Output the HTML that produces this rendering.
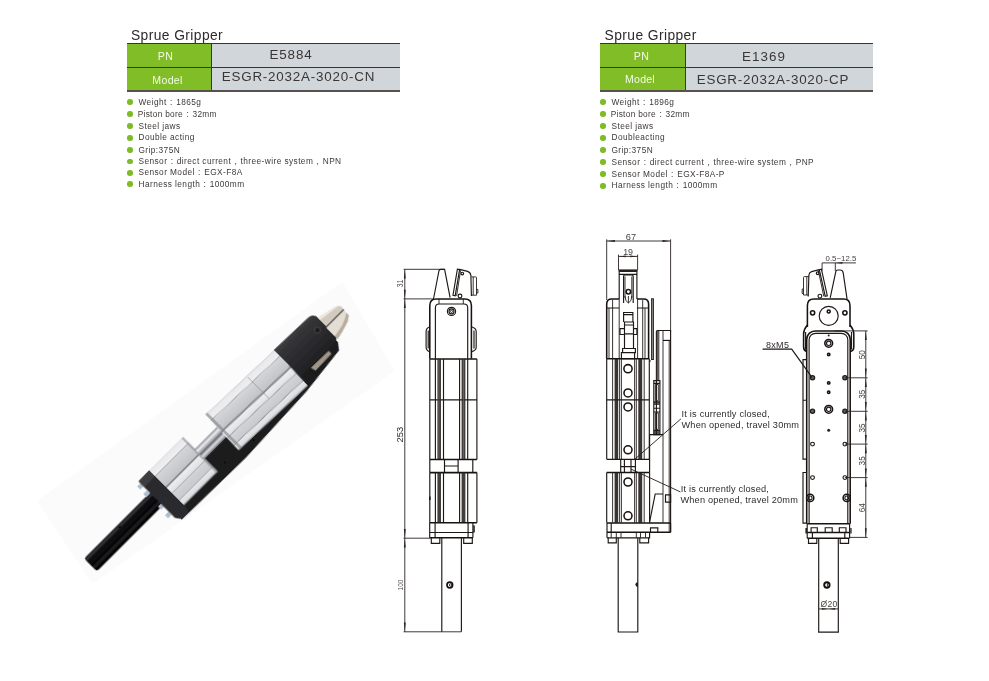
<!DOCTYPE html>
<html>
<head>
<meta charset="utf-8">
<title>Sprue Gripper</title>
<style>
html,body{margin:0;padding:0;background:#fff;}
body{width:989px;height:681px;position:relative;overflow:hidden;font-family:"Liberation Sans",sans-serif;color:#3a3635;}
.title{position:absolute;font-size:13.8px;line-height:14px;letter-spacing:0.42px;color:#2e2a29;white-space:nowrap;}
.tbl{position:absolute;width:273px;height:48px;}
.tbl .line{position:absolute;left:0;width:273px;height:1.4px;background:#3a3432;}
.tbl .g{position:absolute;left:0;width:85px;background:#80bd26;color:#f4fbe8;font-size:10.6px;text-align:center;letter-spacing:0.5px;}
.tbl .v{position:absolute;left:85px;width:188px;background:#d1d6db;color:#3a3635;font-size:13.4px;text-align:center;white-space:nowrap;}
.tbl .vd{position:absolute;left:84px;width:1.15px;top:0;height:48px;background:#3a3432;}
ul.spec{position:absolute;margin:0;padding:0;list-style:none;font-size:8.3px;line-height:11.8px;color:#3d3938;letter-spacing:0.42px;white-space:nowrap;}
ul.spec li{position:absolute;left:0;height:11.8px;line-height:11.8px;padding-left:11.5px;}
ul.spec li:before{content:"";position:absolute;left:0;top:2.6px;width:5.6px;height:5.6px;border-radius:50%;background:#7dbb27;}
.w{display:inline-block;width:9.5px;text-align:center;}
svg{position:absolute;left:0;top:0;}
#wrap{position:absolute;left:0;top:0;width:989px;height:681px;opacity:0.999;will-change:opacity;}
</style>
</head>
<body>
<div id="wrap">

<!-- LEFT HEADER -->
<div class="title" style="left:131px;top:28.7px;">Sprue Gripper</div>
<div class="tbl" style="left:127px;top:43px;">
  <div class="g" style="top:0.5px;height:24.5px;line-height:24.5px;text-indent:-8px;">PN</div>
  <div class="g" style="top:24px;height:24px;line-height:26px;letter-spacing:0.3px;text-indent:-4px;">Model</div>
  <div class="v" style="top:0.5px;height:24.5px;line-height:22.8px;letter-spacing:0.85px;text-indent:-30px;">E5884</div>
  <div class="v" style="top:24px;height:24px;line-height:19.2px;letter-spacing:0.8px;text-indent:-15px;">ESGR-2032A-3020-CN</div>
  <div class="vd"></div>
  <div class="line" style="top:0;"></div>
  <div class="line" style="top:23.6px;"></div>
  <div class="line" style="top:47.3px;background:#57514f;"></div>
</div>
<ul class="spec" style="left:127px;top:96.9px;line-height:11.72px;">
  <li style="top:0.0px">Weight<span class="w">:</span>1865g</li>
  <li style="top:11.8px;padding-left:10.7px;letter-spacing:0.3px">Piston bore<span class="w">:</span>32mm</li>
  <li style="top:23.7px">Steel jaws</li>
  <li style="top:35.5px">Double acting</li>
  <li style="top:47.7px">Grip:375N</li>
  <li style="top:59.2px">Sensor<span class="w">:</span>direct current<span class="w">,</span>three-wire system<span class="w">,</span>NPN</li>
  <li style="top:70.6px">Sensor Model<span class="w">:</span>EGX-F8A</li>
  <li style="top:82.0px">Harness length<span class="w">:</span>1000mm</li>
</ul>

<!-- RIGHT HEADER -->
<div class="title" style="left:604.6px;top:28.7px;">Sprue Gripper</div>
<div class="tbl" style="left:600px;top:43px;">
  <div class="g" style="width:86px;top:0.5px;height:24.5px;line-height:25.5px;text-indent:-3px;">PN</div>
  <div class="g" style="width:86px;top:24px;height:24px;line-height:25px;letter-spacing:0.2px;text-indent:-6px;">Model</div>
  <div class="v" style="top:0.5px;height:24.5px;line-height:25.6px;letter-spacing:1.1px;text-indent:-30px;">E1369</div>
  <div class="v" style="top:24px;height:24px;line-height:26px;letter-spacing:0.78px;text-indent:-12px;">ESGR-2032A-3020-CP</div>
  <div class="vd" style="left:85px"></div>
  <div class="line" style="top:0;"></div>
  <div class="line" style="top:23.6px;"></div>
  <div class="line" style="top:47.3px;background:#57514f;"></div>
</div>
<ul class="spec" style="left:600px;top:96.9px;line-height:11.94px;">
  <li style="top:0.0px">Weight<span class="w">:</span>1896g</li>
  <li style="top:11.8px;padding-left:10.7px;letter-spacing:0.3px">Piston bore<span class="w">:</span>32mm</li>
  <li style="top:23.7px">Steel jaws</li>
  <li style="top:35.5px">Doubleacting</li>
  <li style="top:47.7px">Grip:375N</li>
  <li style="top:60.0px">Sensor<span class="w">:</span>direct current<span class="w">,</span>three-wire system<span class="w">,</span>PNP</li>
  <li style="top:71.8px">Sensor Model<span class="w">:</span>EGX-F8A-P</li>
  <li style="top:83.6px">Harness length<span class="w">:</span>1000mm</li>
</ul>

<svg id="art" width="989" height="681" viewBox="0 0 989 681">
<!--PHOTO-->
<defs>
<linearGradient id="gCyl" gradientUnits="userSpaceOnUse" x1="0" y1="438" x2="0" y2="492">
<stop offset="0.0000" stop-color="#b3b5b8"/><stop offset="0.0296" stop-color="#e9e9eb"/><stop offset="0.1444" stop-color="#eeeef0"/><stop offset="0.1556" stop-color="#a6a8ab"/><stop offset="0.1704" stop-color="#d4d5d7"/><stop offset="0.4167" stop-color="#c3c4c7"/><stop offset="0.4296" stop-color="#8c8e91"/><stop offset="0.4556" stop-color="#8f9194"/><stop offset="0.4704" stop-color="#ecedef"/><stop offset="0.5833" stop-color="#e0e1e3"/><stop offset="0.5963" stop-color="#989a9d"/><stop offset="0.6111" stop-color="#d2d3d6"/><stop offset="0.7685" stop-color="#c9cace"/><stop offset="0.7815" stop-color="#8c8e91"/><stop offset="0.7963" stop-color="#e6e7e9"/><stop offset="0.8796" stop-color="#dcdde0"/><stop offset="0.9000" stop-color="#a9abae"/><stop offset="0.9352" stop-color="#8f9194"/><stop offset="1.0000" stop-color="#7d7f82"/>
</linearGradient>
<linearGradient id="gRod" gradientUnits="userSpaceOnUse" x1="0" y1="454.5" x2="0" y2="472.5">
<stop offset="0" stop-color="#0c0c0d"/><stop offset="0.13" stop-color="#37373a"/><stop offset="0.26" stop-color="#0b0b0c"/><stop offset="0.6" stop-color="#050506"/><stop offset="0.74" stop-color="#232326"/><stop offset="0.86" stop-color="#060607"/><stop offset="1" stop-color="#000"/>
</linearGradient>
<linearGradient id="gHead" gradientUnits="userSpaceOnUse" x1="0" y1="440" x2="0" y2="480">
<stop offset="0" stop-color="#424246"/><stop offset="0.18" stop-color="#343437"/><stop offset="0.55" stop-color="#2b2b2e"/><stop offset="1" stop-color="#202022"/>
</linearGradient>
<linearGradient id="gPist" gradientUnits="userSpaceOnUse" x1="0" y1="455.4" x2="0" y2="469.2">
<stop offset="0" stop-color="#7d8086"/><stop offset="0.2" stop-color="#eef0f2"/><stop offset="0.45" stop-color="#9da1a7"/>
<stop offset="0.55" stop-color="#62656b"/><stop offset="0.75" stop-color="#dfe2e5"/><stop offset="1" stop-color="#6f7277"/>
</linearGradient>
<linearGradient id="gJaw" gradientUnits="userSpaceOnUse" x1="0" y1="449" x2="0" y2="482">
<stop offset="0" stop-color="#e9e2d9"/><stop offset="0.35" stop-color="#d6ccc0"/><stop offset="0.42" stop-color="#4a4440"/>
<stop offset="0.48" stop-color="#c9beb1"/><stop offset="1" stop-color="#a79c90"/>
</linearGradient>
<filter id="soft" x="-5%" y="-5%" width="110%" height="110%"><feGaussianBlur stdDeviation="0.75"/></filter>
</defs>
<polygon points="37,500.7 342.4,281.7 394.8,371 92.5,584" fill="#fbfbfb"/>
<g transform="rotate(-45)" filter="url(#soft)">
<!-- back plate -->
<polygon points="-239,496 -150,497.5 -60,493.5 -8,487.5 -3,481 -3,462 -239,462" fill="#1b1b1d"/>
<!-- rod -->
<path d="M-333,454.6 H-240 V472.4 H-333 Q-335.5,472.4 -335.5,470 V457 Q-335.5,454.6 -333,454.6z" fill="url(#gRod)"/>
<circle cx="-288" cy="457.8" r="1.5" fill="#000" stroke="#303033" stroke-width="0.6"/>
<!-- bolts -->
<rect x="-247" y="441" width="5" height="4.4" fill="#aebccc"/>
<rect x="-248" y="450.6" width="5" height="4.4" fill="#aebccc"/>
<rect x="-246.4" y="470" width="5" height="4.4" fill="#aebccc"/>
<rect x="-247.6" y="481" width="5" height="4.4" fill="#aebccc"/>
<!-- black cap -->
<polygon points="-242.5,438.5 -227,438 -227,488 -229,496 -238,496 -242.5,490" fill="#2c2c2f"/>
<polygon points="-242,438.5 -227,438 -227,446 -242,446.5" fill="#3c3c40"/>
<circle cx="-132" cy="490.5" r="1" fill="#050505"/><circle cx="-168" cy="486" r="1" fill="#050505"/>
<!-- lower block -->
<rect x="-227" y="438.6" width="47.4" height="48.8" fill="url(#gCyl)"/>
<rect x="-181.6" y="438.6" width="2" height="48.8" fill="#8d9095" fill-opacity="0.7"/>
<!-- piston rods -->
<rect x="-180" y="455.4" width="33" height="13.8" fill="url(#gPist)"/>
<!-- upper cylinder -->
<rect x="-148" y="438.4" width="94.6" height="49" fill="url(#gCyl)" transform="rotate(1.9 -148 438.4)"/>
<rect x="-148" y="438.4" width="3" height="49" fill="#7f8287" fill-opacity="0.6"/>
<rect x="-92" y="442" width="0.8" height="30" fill="#85888c" fill-opacity="0.65"/>
<!-- head -->
<path d="M-54,441 L-7,442.6 Q0.2,442.8 0.2,450 V472 Q0.2,479 -6,479 H-54z" fill="url(#gHead)"/>
<circle cx="-9" cy="458" r="3" fill="#1d1d1f" stroke="#4d4d51" stroke-width="0.8"/>
<!-- lower jaw piece -->
<polygon points="-40,480 -15.6,480.6 -15.8,484.6 -39,485" fill="#a0968a"/>
<!-- jaws -->
<polygon points="0,449.4 21.4,454.2 24.6,457.4 24.2,461.4 0,461.4" fill="#d3cabf"/>
<polygon points="0,449.4 21.4,454.2 23,455.8 0,452.4" fill="#eee8e1"/>
<polygon points="0,462.4 24,462.6 23.6,469.7 18.5,473.2 8,476.6 -1,478.6 -1,462.4" fill="#e4ddd4"/>
<polygon points="23.6,466 23.6,469.7 18.5,473.2 8,476.6 -1,478.6 -1,474.5 12,472 20,468.5" fill="#b8ad9f"/>
<rect x="0" y="461.2" width="24.3" height="1.3" fill="#3d3733"/>
</g>

<!--DRAW1-->
<defs>
<style>
.t{stroke:#221d1b;stroke-width:0.9;fill:none;}
.m{stroke:#1d1816;stroke-width:1.15;fill:none;}
.k{stroke:#181311;stroke-width:1.55;fill:none;}
.d{stroke:#2a2422;stroke-width:0.9;fill:none;}
.a{fill:#2a2422;stroke:none;}
.dt{font-family:"Liberation Sans",sans-serif;fill:#2f2b2a;}
</style>
</defs>
<g id="draw1">
<!-- dimension lines -->
<path class="d" d="M403.6,269.3H444.4 M403.6,298.9H434 M404.8,269.3V631.8 M403.6,538.2H430 M403.6,631.8H461.4"/>
<path class="a" d="M404.8,269.5l-0.95,9h1.9z M404.8,298.7l-0.95,-9h1.9z M404.8,299.1l-0.95,9h1.9z M404.8,538l-0.95,-9h1.9z M404.8,538.4l-0.95,9h1.9z M404.8,631.6l-0.95,-9h1.9z"/>
<text class="dt" font-size="8.2" transform="translate(403,287.2) rotate(-90) scale(0.82,1)" fill-opacity="0.85">31</text>
<text class="dt" font-size="9.4" transform="translate(403.4,442.4) rotate(-90)">253</text>
<text class="dt" font-size="7.6" transform="translate(403,590.4) rotate(-90) scale(0.86,1)" fill-opacity="0.85">100</text>
<!-- jaws -->
<path class="m" d="M433.5,299 L438.9,271 Q439.3,269.4 440.8,269.4 L444.6,269.4 L450.1,297.6"/>
<path class="m" d="M457.4,269.1 L453,295.2 L455.2,295.7 L459.6,269.5 Z"/>
<path class="t" d="M460.6,270.2 L456.6,295.9"/>
<path class="m" d="M459.6,269.4 L467.6,271.4 Q470.4,272.3 470.9,275.4 L471.4,296 "/>
<path class="t" d="M471.4,276.9H475.6Q476.5,276.9 476.5,277.8V295.2H471.4 M473.2,277V295 M476.5,289.4H477.9V293H476.5"/>
<circle class="m" cx="462.3" cy="273.5" r="1.3"/>
<circle class="m" cx="460" cy="296" r="1.9"/>
<!-- head -->
<path class="k" d="M429.8,358.7 V305.5 Q429.8,298.9 436.4,298.9 H464.8 Q471.4,298.9 471.4,305.5 V358.7"/>
<path class="m" d="M435.4,358.7 V307.8 Q435.4,304 439.2,304 H463.9 Q467.7,304 467.7,307.8 V358.7"/>
<path class="t" d="M439,298.9V304 M463.3,298.9V304"/>
<circle class="m" cx="451.5" cy="311.4" r="4.1"/>
<circle class="m" cx="451.5" cy="311.4" r="2.5"/>
<circle class="t" cx="451.5" cy="311.4" r="1.1"/>
<path class="m" d="M429.8,326.8 Q426.1,328.2 426.1,331.5 V347.2 Q426.1,350.4 429.8,351.8 M428.2,330.5V348.5"/>
<path class="m" d="M471.4,326.8 Q476.2,328.2 476.2,331.5 V347.2 Q476.2,350.4 471.4,351.8 M474,330.5V348.5"/>
<!-- upper profile -->
<path class="k" d="M429.8,359H476.9"/>
<path class="m" d="M429.8,359V459.4 M476.9,359V459.4 M435.4,359V459.4 M443.5,359V459.4 M459.6,359V459.4 M467.7,359V459.4 M429.8,399.9H476.9"/>
<path d="M437.4,359H441V459.4H437.4z M461.6,359H465.4V459.4H461.6z" fill="#2a2422" fill-opacity="0.88"/>
<path d="M438.9,359.5V459" stroke="#fff" stroke-opacity="0.35" stroke-width="0.5"/>
<path d="M463.5,359.5V459" stroke="#fff" stroke-opacity="0.35" stroke-width="0.5"/>
<!-- gap -->
<path class="k" d="M429.8,459.4H476.9 M429.8,472.6H476.9"/>
<path class="m" d="M429.8,459.4V472.6 M472.8,459.4V472.6 M444.5,459.4V472.6 M458.1,459.4V472.6 M444.5,466H458.1"/>
<!-- lower profile -->
<path class="m" d="M429.8,472.6V522.8 M476.9,472.6V522.8 M435.4,472.6V522.8 M443.5,472.6V522.8 M459.6,472.6V522.8 M467.7,472.6V522.8"/>
<path d="M437.4,472.6H441V522.8H437.4z M461.6,472.6H465.4V522.8H461.6z" fill="#2a2422" fill-opacity="0.88"/>
<path class="k" d="M429.8,496.5V500"/>
<!-- end cap -->
<path class="k" d="M429.7,522.8H476.9 M429.7,537.7H472.9"/>
<path class="m" d="M429.7,522.8V537.7 M472.9,522.8V537.7 M435.1,522.8V537.7 M468.1,522.8V537.7 M429.7,532.5H472.9 M472.9,526H474.2V532H472.9"/>
<path class="m" d="M431.3,537.7V543.4H439.8V537.7 M463.7,537.7V543.4H472.3V537.7"/>
<!-- rod -->
<path class="m" d="M441.8,537.7V631.8 M461.4,537.7V631.8"/>
<circle cx="449.8" cy="585" r="2.8" fill="none" stroke="#15110f" stroke-width="1.7"/>
<circle class="t" cx="450.6" cy="585" r="1.2"/>
</g>

<!--DRAW2-->
<g id="draw2">
<!-- dims -->
<path class="d" d="M606.7,241H670.6 M606.7,239.3V300 M670.6,239.3V331 M618.5,256.4H637.6 M618.5,254.6V270 M637.6,254.6V270"/>
<path class="a" d="M606.9,241l8,-1v2z M670.4,241l-8,-1v2z M618.7,256.4l7,-0.9v1.8z M637.4,256.4l-7,-0.9v1.8z"/>
<text class="dt" font-size="9.2" x="625.8" y="239.7" fill-opacity="0.9">67</text>
<text class="dt" font-size="8.9" x="623.2" y="254.5" fill-opacity="0.9">19</text>
<!-- jaw -->
<path d="M618.5,269.4H637.6V272H618.5z" fill="#241f1d"/>
<path class="m" d="M619.2,272V299 M636.9,272V299 M619.2,274.4H636.9"/>
<path class="m" d="M623.6,303 V276.2 Q623.6,274.8 625,274.8 H631.8 Q633.2,274.8 633.2,276.2 V303"/>
<path class="t" d="M625,276.5V298 M631.8,276.5V298"/>
<circle class="k" cx="628.4" cy="291.7" r="2.2"/>
<path class="t" d="M625,296 Q625,301.5 628.4,303 Q631.8,301.5 631.8,296 M628.4,296V303"/>
<!-- head -->
<path class="k" d="M606.7,358.7 V304 Q606.7,299 611.7,299 H619.2 M636.9,299 H643.6 Q648.6,299 648.6,304 V358.7"/>
<path class="m" d="M606.7,308H619.2 M636.9,308H648.6"/>
<path class="t" d="M609,308V358.7 M612.6,300V358.7 M619.2,299V358.7 M637.6,299V358.7 M642.7,300V358.7 M645,308V358.7"/>
<path class="m" d="M651.7,298.7H653.3V359.5H651.7z"/>
<!-- inner mechanism -->
<path class="m" d="M623.6,322V312.5H632.9V322 M623.6,314.6H632.9 M624.5,322H633.5V348.5H624.5z M624.5,325H633.5 M624.5,333.8H633.5 M620,328.6H624.5V334.5H620z M633.5,328.6H636.9V334.5H633.5z M622.6,348.5H635.4V352.6H622.6z M621.4,352.6H634.6V358.7H621.4z"/>
<!-- upper profile -->
<path class="k" d="M606.7,358.7H649.3"/>
<path class="m" d="M606.7,358.7V459.3 M649.3,358.7V459.3 M606.7,399.8H649.3 M606.7,459.3H649.3"/>
<path class="t" d="M612.6,358.7V459.3 M621.4,358.7V459.3 M634.6,358.7V459.3 M644.2,358.7V459.3"/>
<path d="M614.6,358.7H618.2V459.3H614.6z M638.3,358.7H642.2V459.3H638.3z" fill="#241f1d" fill-opacity="0.9"/>
<path d="M619.6,358.7V459.3 M636.3,358.7V459.3" class="t"/>
<circle class="k" cx="628" cy="368.7" r="4.1"/>
<circle class="k" cx="628" cy="392.9" r="4"/>
<circle class="k" cx="628" cy="406.9" r="4"/>
<circle class="k" cx="628" cy="449.8" r="4"/>
<path class="t" d="M649.3,361H651"/>
<!-- gap -->
<path class="m" d="M620.7,459.3V472.4 M635.4,459.3V472.4 M624.4,459.3V472.4 M631,459.3V472.4 M620.7,466.6H635.4"/>
<!-- lower profile -->
<path class="k" d="M606.7,472.4H649.6"/>
<path class="m" d="M606.7,472.4V522.7 M649.6,472.4V522.7"/>
<path class="t" d="M612.6,472.4V522.7 M621.4,472.4V522.7 M634.6,472.4V522.7 M644.2,472.4V522.7 M619.6,472.4V522.7 M636.3,472.4V522.7"/>
<path d="M614.6,472.4H618.2V522.7H614.6z M638.3,472.4H642.2V522.7H638.3z" fill="#241f1d" fill-opacity="0.9"/>
<circle class="k" cx="628" cy="482" r="4"/>
<circle class="k" cx="628" cy="515.8" r="4"/>
<!-- side plate -->
<path class="m" d="M656.4,434.6 V331.5 Q656.4,330.5 657.4,330.5 H670.6 V532.2"/>
<path d="M656.4,331H659.4V380H656.4z" fill="#3a3432" fill-opacity="0.8"/>
<path class="t" d="M663,330.5V522.7"/>
<path class="t" d="M669.2,340.4V532.2"/><path class="m" d="M663,340.4H670.6"/>
<!-- sensor -->
<path class="m" d="M653.8,380.6H659.9V434.6H653.8z"/>
<path class="m" d="M653.8,383.4H659.9 M653.8,401.8H659.9 M653.8,408.2H659.9 M653.8,412H659.9 M653.8,430.3H659.9"/>
<path class="t" d="M655.4,384.5V400.8H658.3V384.5z M655.4,413V429.4H658.3V413z"/>
<path d="M654,402H659.8V405H654z M654,430.5H659.8V434.4H654z" fill="#241f1d" fill-opacity="0.75"/>
<!-- step block + gusset -->
<path class="m" d="M649.6,434.6H663 M649.6,434.6V472.4 M649.6,522 L655.2,494 H663"/>
<path class="m" d="M665.5,494.8H670.6V502.1H665.5z"/>
<!-- bottom plate -->
<path class="k" d="M607,522.9H670.6 M607,532.2H670.6"/>
<path class="m" d="M607,522.9V537.8 M611.2,522.9V532.2 M670.6,522.9V532.2 M650.5,532.2V527.8H657.8V532.2 M607,537.8H649.6V532.2"/>
<path class="t" d="M611.2,532.2V537.8 M616.3,532.2V537.8 M621,532.2V537.8 M636.3,532.2V537.8 M640.5,532.2V537.8 M645.5,532.2V537.8"/>
<path class="m" d="M608.2,537.8V542.8H616.3V537.8 M639.8,537.8V542.8H648.6V537.8"/>
<!-- rod -->
<path class="m" d="M618.2,537.8V632H637.8V537.8"/>
<path d="M637.8,582.2 A2.4,2.4 0 0 0 637.8,587z" fill="#1f1a18"/>
<!-- leaders + notes -->
<path class="t" d="M680.9,418.9L633.9,460 M631,469.1L680.4,491.9"/>
<text class="dt" font-size="9.2" letter-spacing="0.2" x="681.6" y="417.3">It is currently closed,</text>
<text class="dt" font-size="9.2" letter-spacing="0.2" x="681.5" y="428.2">When opened, travel 30mm</text>
<text class="dt" font-size="9.2" letter-spacing="0.2" x="680.7" y="491.9">It is currently closed,</text>
<text class="dt" font-size="9.2" letter-spacing="0.2" x="680.4" y="502.7">When opened, travel 20mm</text>
</g>

<!--DRAW3-->
<g id="draw3">
<!-- top dim -->
<path class="d" d="M822.1,262.9H855.9 M822.1,262.9V270.7 M835.3,262.9V271"/>
<path class="a" d="M835.5,262.9l7,-0.9v1.8z M822.3,262.9l0,0z"/>
<text class="dt" font-size="7.8" x="825.5" y="261.4" letter-spacing="0.05" fill-opacity="0.9">0.5~12.5</text>
<!-- jaws -->
<path class="m" d="M830.2,297.9 L835.8,271.6 Q836.2,270 837.8,270 L840.2,270 Q842.6,270 843.2,272.8 L847.1,299.3"/>
<path class="m" d="M821.4,269.2 L827.3,295.7 L825.2,296.2 L819.3,269.7 Z"/>
<path class="t" d="M818.3,270.4 L823.8,296.4"/>
<path class="m" d="M819.3,269.6 L811.6,271.6 Q809.2,272.4 808.9,275 L808.2,296.5"/>
<path class="t" d="M808.9,276.6H804.4Q803.5,276.6 803.5,277.5V295H808.4 M806.8,276.8V295 M803.5,289H802.2V293.5H803.5"/>
<circle class="m" cx="817.7" cy="273.3" r="1.4"/>
<circle class="m" cx="819.9" cy="296.1" r="1.9"/>
<!-- head -->
<path class="k" d="M807.4,327 V305.5 Q807.4,299 813.9,299 H843.5 Q850,299 850,305.5 V327"/>
<path class="k" d="M807.4,325 Q803.6,329.5 803.6,334 V347 Q803.6,350.6 806.7,351.6 M850,325 Q853.8,329.5 853.8,334 V347 Q853.8,350.6 850.4,351.6"/>
<path class="m" d="M805.6,332 V349.5 M851.5,332 V349.5"/>
<circle class="m" cx="828.7" cy="315.9" r="9.5"/>
<circle class="k" cx="828.7" cy="311.4" r="1.5"/>
<circle class="k" cx="812.6" cy="312.8" r="2.1"/>
<circle class="k" cx="844.9" cy="312.8" r="2.1"/>
<!-- plate -->
<path class="k" d="M806.7,523.7 V339.4 A8.5,8.5 0 0 1 815.2,330.9 H841.7 A8.5,8.5 0 0 1 850.2,339.4 V523.7"/>
<path class="m" d="M809.1,523.7 V339.8 A6.5,6.5 0 0 1 815.6,333.3 H841.3 A6.5,6.5 0 0 1 847.8,339.8 V523.7"/>
<!-- left strips -->
<path class="m" d="M806.7,359.6H803V459.1H806.7 M803,400.2H806.7 M806.7,472.5H803V523.1H806.7"/>
<!-- holes centre column -->
<circle class="a" cx="828.7" cy="335.6" r="1"/>
<circle class="k" cx="828.7" cy="343.3" r="3.9"/>
<circle class="m" cx="828.7" cy="343.3" r="2.2"/>
<circle class="k" cx="828.7" cy="354.5" r="1.2"/>
<circle class="k" cx="828.7" cy="382.9" r="1.2"/>
<circle class="k" cx="828.7" cy="392.2" r="1.2"/>
<circle class="k" cx="828.7" cy="409.3" r="3.9"/>
<circle class="m" cx="828.7" cy="409.3" r="2.2"/>
<circle class="a" cx="828.7" cy="430.2" r="1.5"/>
<!-- side holes -->
<circle cx="812.5" cy="377.8" r="2.1" style="fill:#6a6462;stroke:#1f1a18;stroke-width:1.3"/>
<circle cx="844.9" cy="377.8" r="2.1" style="fill:#6a6462;stroke:#1f1a18;stroke-width:1.3"/>
<circle cx="812.5" cy="411.3" r="2.1" style="fill:#6a6462;stroke:#1f1a18;stroke-width:1.3"/>
<circle cx="844.9" cy="411.3" r="2.1" style="fill:#6a6462;stroke:#1f1a18;stroke-width:1.3"/>
<circle class="m" cx="812.5" cy="444.1" r="1.9"/>
<circle class="m" cx="844.9" cy="444.1" r="1.9"/>
<circle class="m" cx="812.5" cy="477.6" r="1.9"/>
<circle class="m" cx="844.9" cy="477.6" r="1.9"/>
<circle class="k" cx="810.2" cy="497.9" r="3.6"/>
<circle class="m" cx="810.2" cy="497.9" r="1.9"/>
<circle class="k" cx="846.7" cy="497.9" r="3.6"/>
<circle class="m" cx="846.7" cy="497.9" r="1.9"/>
<!-- 8xM5 -->
<text class="dt" font-size="9" x="766" y="347.9" letter-spacing="0.3">8xM5</text>
<path class="m" d="M762.6,349.1H791.7L812,377.3"/>
<!-- right dims -->
<path class="d" d="M834.6,330.9H867.6 M844.9,377.8H867.6 M844.9,411.3H867.6 M844.9,444.1H867.6 M844.9,477.6H867.6 M849.9,537.4H867.6 M865.8,330.9V537.4"/>
<path class="a" d="M865.8,331.1l-0.95,9h1.9z M865.8,377.6l-0.95,-9h1.9z M865.8,378l-0.95,9h1.9z M865.8,411.1l-0.95,-9h1.9z M865.8,411.5l-0.95,9h1.9z M865.8,443.9l-0.95,-9h1.9z M865.8,444.3l-0.95,9h1.9z M865.8,477.4l-0.95,-9h1.9z M865.8,477.8l-0.95,9h1.9z M865.8,537.2l-0.95,-9h1.9z"/>
<text class="dt" font-size="8.8" transform="translate(864.6,359.2) rotate(-90) scale(0.93,1)" fill-opacity="0.9">50</text>
<text class="dt" font-size="8.8" transform="translate(864.6,398.8) rotate(-90) scale(0.93,1)" fill-opacity="0.9">35</text>
<text class="dt" font-size="8.8" transform="translate(864.6,432.6) rotate(-90) scale(0.93,1)" fill-opacity="0.9">35</text>
<text class="dt" font-size="8.8" transform="translate(864.6,465.4) rotate(-90) scale(0.93,1)" fill-opacity="0.9">35</text>
<text class="dt" font-size="8.8" transform="translate(864.6,512.2) rotate(-90) scale(0.93,1)" fill-opacity="0.9">64</text>
<!-- end cap -->
<path class="k" d="M807.2,523.7H849.9 M807.2,532.5H849.9 M807.2,538.2H849.4"/>
<path class="m" d="M807.2,523.7V538.2 M849.6,523.7V538.2 M812.4,532.5V538.2 M844.8,532.5V538.2 M811.1,532.5V527.7H817.3V532.5 M825.2,532.5V527.7H832.2V532.5 M839.3,532.5V527.7H846V532.5 M806,528V533.5 M851,528V533.5"/>
<path class="m" d="M808.5,538.2V543.4H816.8V538.2 M840.2,538.2V543.4H848.6V538.2"/>
<!-- rod -->
<path class="m" d="M818.7,538.2V632.1H838.3V538.2"/>
<circle cx="826.9" cy="585" r="2.7" fill="none" stroke="#15110f" stroke-width="1.9"/>
<path class="t" d="M827.4,583.2V586.8"/>
<text class="dt" font-size="8.6" x="820.4" y="606.5" letter-spacing="0.3" fill-opacity="0.9">Ø20</text>
<path class="d" d="M818.7,608.9H838.3"/>
<path class="a" d="M828.3,608.9l-6.5,-0.9v1.8z M828.7,608.9l6.5,-0.9v1.8z"/>
</g>

</svg>
</div>
</body>
</html>
